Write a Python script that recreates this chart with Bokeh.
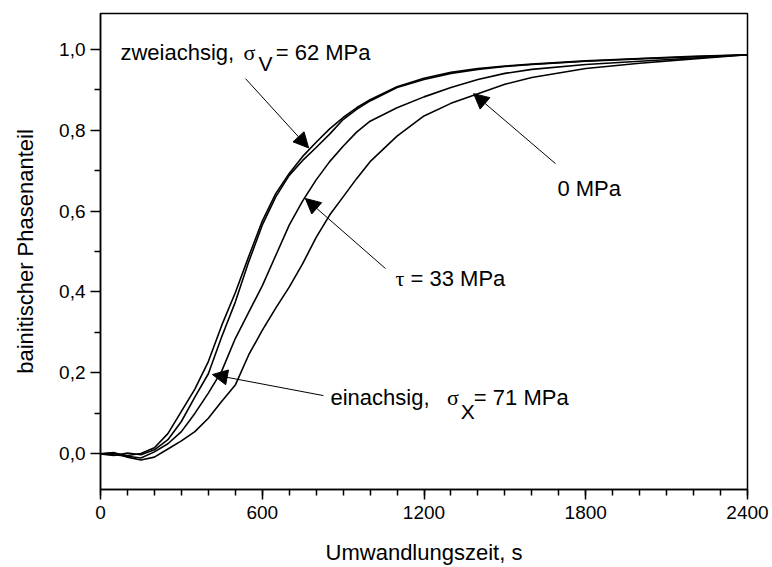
from bokeh.plotting import figure
from bokeh.models import FixedTicker, Arrow, NormalHead, Label, Range1d
from bokeh.embed import file_html
from bokeh.resources import INLINE

# ---- data ----
t = [0, 50, 100, 150, 200, 250, 300, 350, 400, 450, 500, 550, 600, 650, 700, 750,
     800, 850, 900, 950, 1000, 1100, 1200, 1300, 1400, 1500, 1600, 1800, 2000, 2200, 2400]
zweiachsig = [0.000, 0.002, -0.004, 0.001, 0.015, 0.050, 0.105, 0.160, 0.228, 0.318, 0.398, 0.488,
              0.575, 0.643, 0.693, 0.735, 0.770, 0.803, 0.831, 0.855, 0.875, 0.907, 0.928, 0.943,
              0.952, 0.958, 0.963, 0.971, 0.977, 0.982, 0.986]
einachsig = [0.000, -0.004, 0.002, -0.002, 0.010, 0.035, 0.080, 0.140, 0.198, 0.290, 0.375, 0.475,
             0.565, 0.635, 0.688, 0.725, 0.757, 0.790, 0.826, 0.851, 0.872, 0.905, 0.925, 0.940,
             0.950, 0.957, 0.962, 0.970, 0.976, 0.981, 0.986]
tau33 = [0.000, -0.002, -0.006, -0.010, 0.005, 0.025, 0.055, 0.100, 0.150, 0.205, 0.285, 0.350,
         0.415, 0.490, 0.565, 0.625, 0.677, 0.722, 0.760, 0.795, 0.822, 0.855, 0.882, 0.905,
         0.925, 0.940, 0.950, 0.962, 0.970, 0.978, 0.986]
null_mpa = [0.000, 0.003, -0.008, -0.015, -0.008, 0.012, 0.032, 0.055, 0.088, 0.130, 0.170, 0.245,
            0.305, 0.360, 0.412, 0.470, 0.535, 0.590, 0.635, 0.680, 0.722, 0.785, 0.835, 0.866,
            0.890, 0.913, 0.930, 0.952, 0.965, 0.976, 0.986]

x_ticks = [0, 600, 1200, 1800, 2400]
x_tick_labels = ["0", "600", "1200", "1800", "2400"]
x_minor = [v for v in range(0, 2401, 100)]
y_ticks = [0.0, 0.2, 0.4, 0.6, 0.8, 1.0]
y_tick_labels = ["0,0", "0,2", "0,4", "0,6", "0,8", "1,0"]
y_minor = [0.1, 0.3, 0.5, 0.7, 0.9]

FONT = "Liberation Sans"
SERIF = "Liberation Serif"

p = figure(width=772, height=567, x_range=Range1d(0, 2400), y_range=Range1d(-0.088, 1.088),
           output_backend="svg", toolbar_location=None,
           min_border_left=100, min_border_right=25, min_border_top=13, min_border_bottom=78)
p.grid.visible = False
p.outline_line_color = "black"
p.outline_line_width = 1.5
p.background_fill_color = "white"
p.border_fill_color = "white"

for ax in (p.xaxis[0], p.yaxis[0]):
    ax.axis_line_color = "black"
    ax.axis_line_width = 1.5
    ax.major_tick_line_color = "black"
    ax.major_tick_line_width = 1.5
    ax.minor_tick_line_color = "black"
    ax.minor_tick_line_width = 1.5
    ax.major_tick_in = 0
    ax.major_tick_out = 10
    ax.minor_tick_in = 0
    ax.minor_tick_out = 6
    ax.major_label_text_font = FONT
    ax.major_label_text_font_size = "19px"
    ax.major_label_text_color = "black"
    ax.axis_label_text_font = FONT
    ax.axis_label_text_font_size = "22px"
    ax.axis_label_text_font_style = "normal"
    ax.axis_label_text_color = "black"

p.xaxis.ticker = FixedTicker(ticks=x_ticks, minor_ticks=x_minor)
p.xaxis.major_label_overrides = dict(zip(x_ticks, x_tick_labels))
p.xaxis.major_label_standoff = 6
p.xaxis.axis_label = "Umwandlungszeit, s"
p.xaxis.axis_label_standoff = 18

p.yaxis.ticker = FixedTicker(ticks=y_ticks, minor_ticks=y_minor)
p.yaxis.major_label_overrides = dict(zip(y_ticks, y_tick_labels))
p.yaxis.major_label_standoff = 5
p.yaxis.axis_label = "bainitischer Phasenanteil"
p.yaxis.axis_label_standoff = 18

for series in (zweiachsig, einachsig, tau33, null_mpa):
    p.line(t, series, line_color="black", line_width=1.6)

# ---- arrows ----
arrows = [
    (538, 0.927, 772, 0.756),    # zweiachsig
    (1688, 0.717, 1384, 0.890),  # 0 MPa
    (1057, 0.458, 760, 0.631),   # tau
    (827, 0.144, 415, 0.196),    # einachsig
]
for xs, ys, xe, ye in arrows:
    p.add_layout(Arrow(end=NormalHead(size=15, fill_color="black", line_color="black"),
                       x_start=xs, y_start=ys, x_end=xe, y_end=ye,
                       line_color="black", line_width=1))

def lab(x, y, text, font=FONT, size="22px"):
    p.add_layout(Label(x=x, y=y, text=text, text_font=font, text_font_size=size,
                       text_baseline="alphabetic", text_align="left", text_color="black"))

# zweiachsig, sigma_V = 62 MPa
lab(74, 0.992, "zweiachsig,")
lab(530, 0.992, "σ", SERIF)
lab(586, 0.965, "V", FONT, "21px")
lab(650, 0.992, "= 62 MPa")
# 0 MPa
lab(1695, 0.655, "0 MPa")
# tau = 33 MPa
lab(1094, 0.433, "τ", SERIF)
lab(1150, 0.433, "= 33 MPa")
# einachsig, sigma_x = 71 MPa
lab(853, 0.139, "einachsig,")
lab(1285, 0.139, "σ", SERIF)
lab(1336, 0.104, "X", FONT, "21px")
lab(1385, 0.139, "= 71 MPa")

open("out.html", "w").write(file_html(p, INLINE))
